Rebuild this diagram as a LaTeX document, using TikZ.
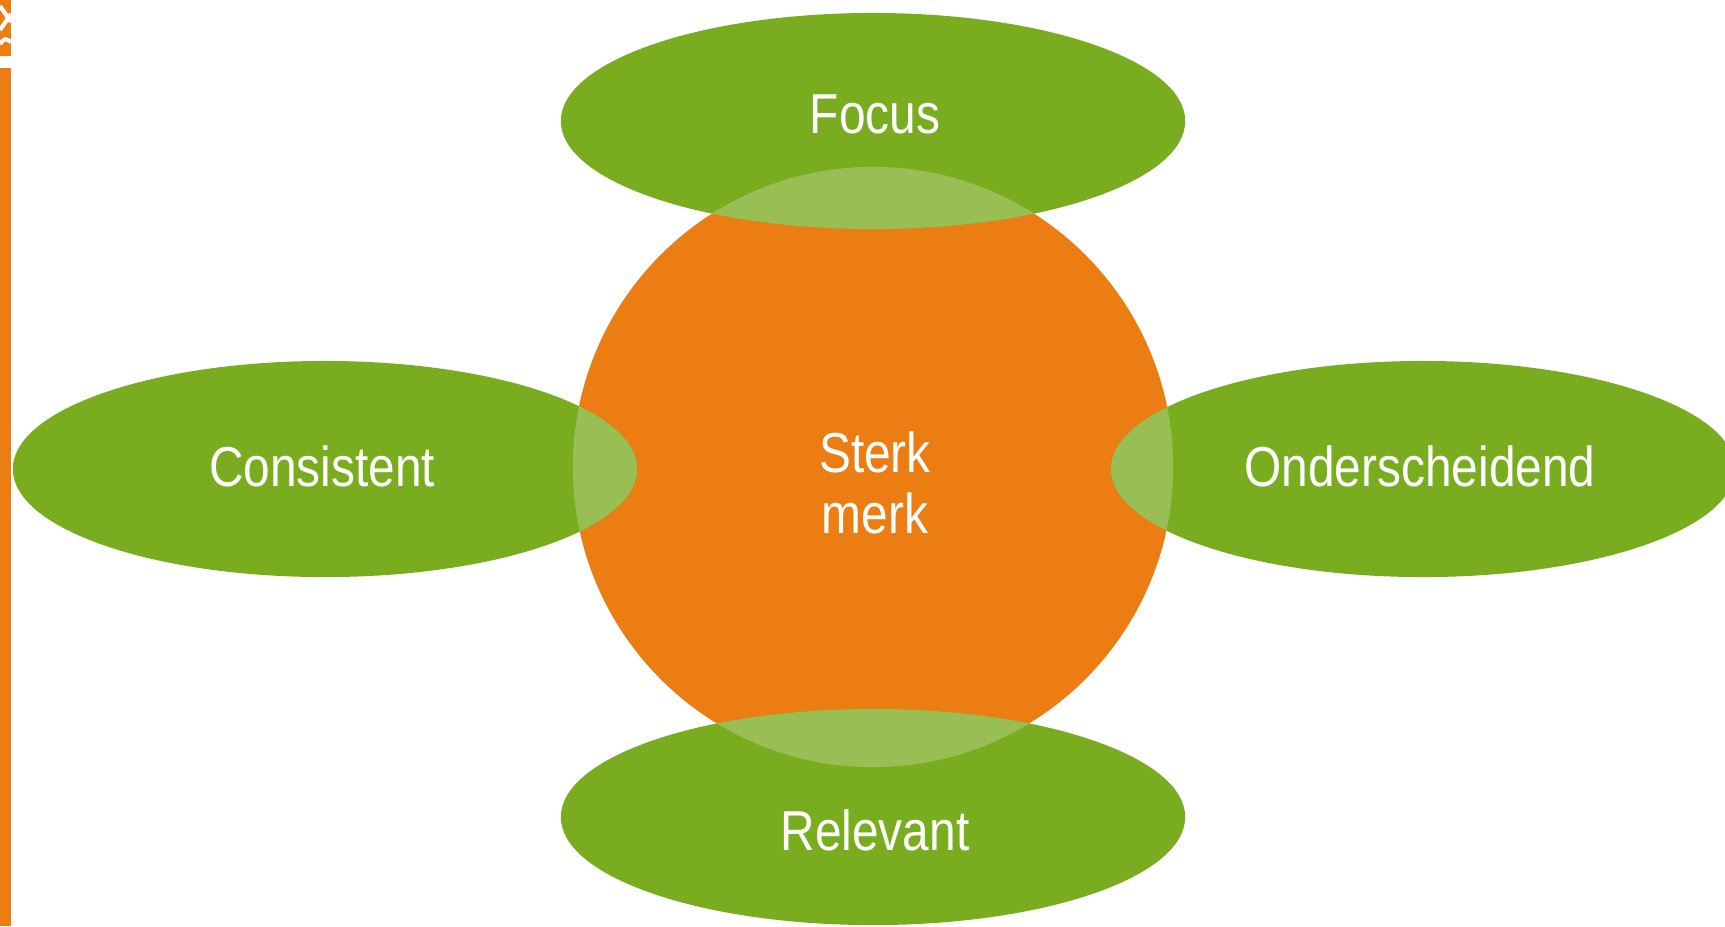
\documentclass[tikz,border=0pt]{standalone}
\usepackage{fontspec}
\setmainfont{Liberation Sans}[FakeStretch=0.85]
\usetikzlibrary{shapes.geometric}
\definecolor{brandgreen}{HTML}{79AD1F}
\definecolor{brandorange}{HTML}{EC7D13}
\definecolor{lightgreen}{HTML}{99BE53}
\tikzset{
  petal/.style={ellipse, fill=brandgreen, inner sep=0pt, minimum width=6.24cm, minimum height=2.16cm},
  core/.style={circle, fill=brandorange, inner sep=0pt, minimum size=6cm},
  lbl/.style={text=white, font=\fontsize{16pt}{17.3pt}\selectfont, align=center, inner sep=0pt}
}
\begin{document}
\begin{tikzpicture}[x=0.01cm, y=-0.01cm]
\useasboundingbox (0,0) rectangle (1725,926);
\clip (0,0) rectangle (1725,926);
\fill[white] (0,0) rectangle (1725,926);
% left orange bar with logo fragment
\fill[brandorange] (0,0) rectangle (11,926);
\fill[white] (0,56) rectangle (11,68);
\draw[white, line width=1.2pt] (0,6) -- (11,22);
\draw[white, line width=1.2pt] (0,30) -- (11,14);
\draw[white, line width=1.2pt] (0,44) .. controls (5,38) .. (11,42);
% shapes
\node[core] (core) at (873,467) {};
\node[petal] (focus) at (873,121) {};
\node[petal] (cons) at (325,469) {};
\node[petal] (onder) at (1423,469) {};
\node[petal] (rel) at (873,817) {};
% overlaps
\begin{scope}
  \clip (873,467) circle [radius=3cm];
  \fill[lightgreen] (873,121) ellipse [x radius=3.12cm, y radius=1.08cm];
  \fill[lightgreen] (325,469) ellipse [x radius=3.12cm, y radius=1.08cm];
  \fill[lightgreen] (1423,469) ellipse [x radius=3.12cm, y radius=1.08cm];
  \fill[lightgreen] (873,817) ellipse [x radius=3.12cm, y radius=1.08cm];
\end{scope}
% labels
\node[lbl] (tfocus) at (875,114) {Focus};
\node[lbl] (tcons) at (322,466) {Consistent};
\node[lbl] (tonder) at (1420,466) {Onderscheidend};
\node[lbl] (tcore) at (875,483) {Sterk\\merk};
\node[lbl] (trel) at (875,830) {Relevant};
\end{tikzpicture}
\end{document}
